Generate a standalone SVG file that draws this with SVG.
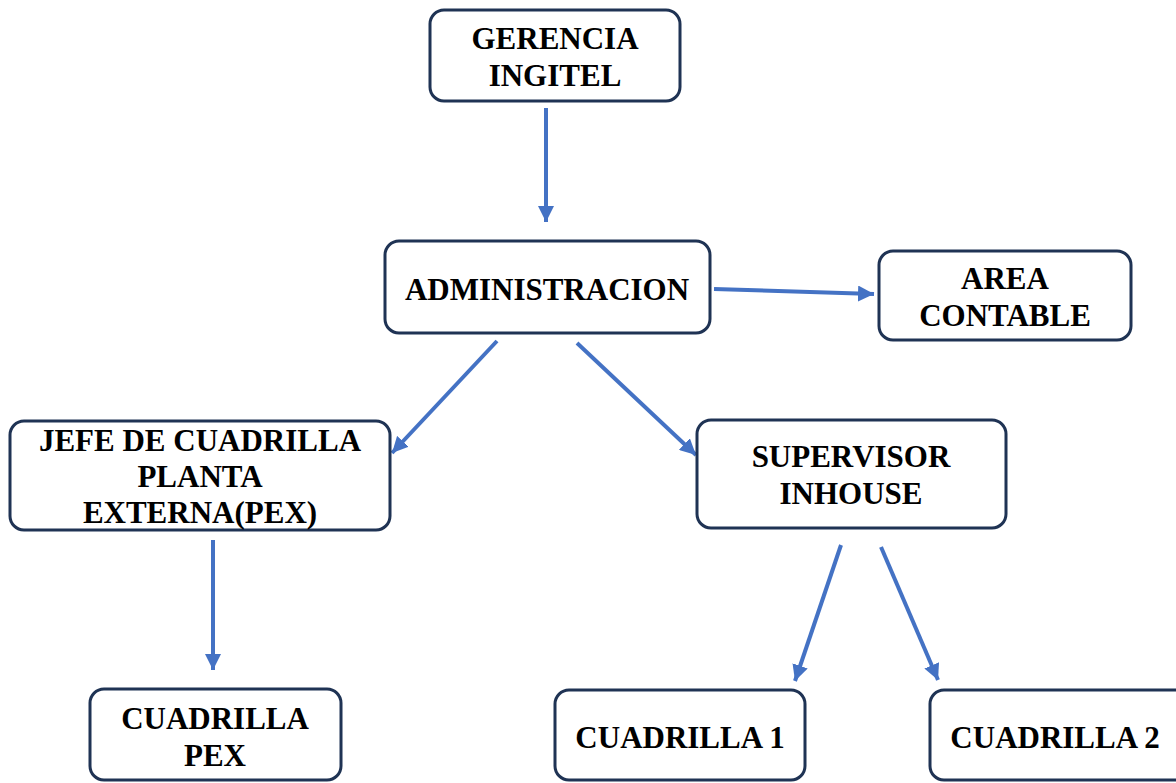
<svg xmlns="http://www.w3.org/2000/svg" width="1176" height="783" viewBox="0 0 1176 783">
<style>
.box{fill:#fff;stroke:#1f3354;stroke-width:3}
.t{font-family:"Liberation Serif","Times New Roman",serif;font-weight:bold;font-size:31px;fill:#000;text-anchor:middle}
.c{stroke:#4472c4;stroke-width:4;fill:none}
</style>
<defs>
<marker id="ah" markerUnits="userSpaceOnUse" markerWidth="18" markerHeight="16" refX="16" refY="8" orient="auto">
<path d="M0,0 L16,8 L0,16 Z" fill="#4472c4"/>
</marker>
</defs>
<rect width="1176" height="783" fill="#fff"/>
<g id="connectors">
<line class="c" x1="546" y1="108" x2="546" y2="222" marker-end="url(#ah)"/>
<line class="c" x1="714" y1="289" x2="874" y2="294" marker-end="url(#ah)"/>
<line class="c" x1="497" y1="341" x2="392" y2="453" marker-end="url(#ah)"/>
<line class="c" x1="577" y1="343" x2="696" y2="455" marker-end="url(#ah)"/>
<line class="c" x1="213" y1="540" x2="213" y2="670" marker-end="url(#ah)"/>
<line class="c" x1="841" y1="545" x2="795" y2="681" marker-end="url(#ah)"/>
<line class="c" x1="881" y1="547" x2="938" y2="680" marker-end="url(#ah)"/>
</g>
<g id="gerencia">
<rect class="box" x="430" y="10" width="250" height="91" rx="14"/>
<text class="t" x="555" y="49">GERENCIA</text>
<text class="t" x="555" y="86">INGITEL</text>
</g>
<g id="administracion">
<rect class="box" x="385" y="241" width="325" height="92" rx="14"/>
<text class="t" x="547" y="300">ADMINISTRACION</text>
</g>
<g id="area-contable">
<rect class="box" x="879" y="251" width="252" height="89" rx="14"/>
<text class="t" x="1005" y="289">AREA</text>
<text class="t" x="1005" y="326">CONTABLE</text>
</g>
<g id="jefe-pex">
<rect class="box" x="10" y="421" width="380" height="109" rx="14"/>
<text class="t" x="200" y="451">JEFE DE CUADRILLA</text>
<text class="t" x="200" y="487">PLANTA</text>
<text class="t" x="200" y="523">EXTERNA(PEX)</text>
</g>
<g id="supervisor">
<rect class="box" x="697" y="420" width="309" height="108" rx="14"/>
<text class="t" x="851" y="467">SUPERVISOR</text>
<text class="t" x="851" y="504">INHOUSE</text>
</g>
<g id="cuadrilla-pex">
<rect class="box" x="90" y="689" width="251" height="91" rx="14"/>
<text class="t" x="215" y="729">CUADRILLA</text>
<text class="t" x="215" y="766">PEX</text>
</g>
<g id="cuadrilla-1">
<rect class="box" x="555" y="690" width="250" height="90" rx="14"/>
<text class="t" x="680" y="748">CUADRILLA 1</text>
</g>
<g id="cuadrilla-2">
<rect class="box" x="930" y="690" width="260" height="90" rx="14"/>
<text class="t" x="1055" y="748">CUADRILLA 2</text>
</g>
</svg>
